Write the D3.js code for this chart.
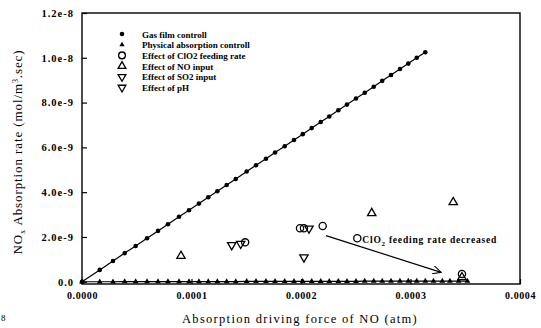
<!DOCTYPE html>
<html>
<head>
<meta charset="utf-8">
<script src="https://cdn.jsdelivr.net/npm/d3@7"></script>
<style>
  body { margin: 0; background: #fff; }
  svg text { font-family: "Liberation Serif", "DejaVu Serif", serif; fill: #000; }
</style>
</head>
<body>
<svg id="chart" width="541" height="328"></svg>
<script>
/* ───────────── DATA (x in atm, y in mol/m3.sec) ───────────── */
// shared x positions of the two model curves (unit 1e-4 atm)
const gasX = [0, 0.162, 0.283, 0.390, 0.490, 0.594, 0.694, 0.785, 0.886, 0.977,
              1.068, 1.153, 1.236, 1.321, 1.404, 1.504, 1.589, 1.680, 1.763, 1.851,
              1.936, 2.016, 2.098, 2.180, 2.258, 2.341, 2.420, 2.502, 2.582, 2.664,
              2.742, 2.822, 2.904, 2.980, 3.057, 3.135];
// gas film control (unit 1e-9)
const gasY = [0, 0.53, 0.93, 1.28, 1.60, 1.94, 2.27, 2.57, 2.90, 3.19,
              3.49, 3.77, 4.04, 4.32, 4.59, 4.92, 5.20, 5.49, 5.77, 6.05,
              6.33, 6.59, 6.86, 7.13, 7.38, 7.66, 7.91, 8.18, 8.44, 8.71,
              8.97, 9.23, 9.50, 9.74, 10.00, 10.25];
// physical absorption control (unit 1e-4 / 1e-9)
const physX = [0, 0.162, 0.283, 0.390, 0.490, 0.594, 0.694, 0.785, 0.886, 0.977,
               1.068, 1.153, 1.236, 1.321, 1.404, 1.504, 1.589, 1.680, 1.763, 1.851,
               1.936, 2.016, 2.098, 2.180, 2.258, 2.341, 2.420, 2.502, 2.582, 2.664,
               2.742, 2.822, 2.904, 2.980, 3.057, 3.135, 3.21, 3.29, 3.36, 3.44, 3.52];
const physY = [0, 0, 0, 0.01, 0.01, 0.01, 0.01, 0.01, 0.01, 0.01,
               0.01, 0.01, 0.01, 0.01, 0.01, 0.02, 0.02, 0.02, 0.02, 0.02,
               0.02, 0.02, 0.02, 0.02, 0.02, 0.02, 0.02, 0.02, 0.03, 0.03,
               0.03, 0.03, 0.03, 0.03, 0.03, 0.03, 0.03, 0.03, 0.03, 0.03, 0.03];
// experiments
const clo2X = [1.49, 1.991, 2.027, 2.198, 2.514, 3.47];
const clo2Y = [1.76, 2.39, 2.39, 2.49, 1.94, 0.35];
const noX   = [0.904, 2.646, 3.39, 3.47];
const noY   = [1.15, 3.06, 3.55, 0.20];
const so2X  = [1.367, 1.449];
const so2Y  = [1.64, 1.70];
const phX   = [2.073, 2.027];
const phY   = [2.38, 1.09];

const xTicks = [0, 1, 2, 3, 4];               // 1e-4
const xTickLabels = ["0.0000", "0.0001", "0.0002", "0.0003", "0.0004"];
const yTicks = [0, 2, 4, 6, 8, 10, 12];       // 1e-9
const yTickLabels = ["0.0", "2.0e-9", "4.0e-9", "6.0e-9", "8.0e-9", "1.0e-8", "1.2e-8"];

const legendLabels = ["Gas film controll", "Physical absorption controll",
                      "Effect of ClO2 feeding rate", "Effect of NO input",
                      "Effect of SO2 input", "Effect of pH"];

/* ───────────── SCALES ───────────── */
const svg = d3.select("#chart");
const x = d3.scaleLinear().domain([0, 4]).range([82, 520]);
const y = d3.scaleLinear().domain([-0.1, 12]).range([284, 13]);

const zip = (xs, ys) => xs.map((v, i) => [v, ys[i]]);

/* ───────────── FRAME + AXES ───────────── */
svg.append("rect")
   .attr("x", x(0)).attr("y", y(12))
   .attr("width", x(4) - x(0)).attr("height", y(-0.1) - y(12))
   .attr("fill", "none").attr("stroke", "#000").attr("stroke-width", 1.4);

const yAxis = svg.append("g")
   .attr("transform", `translate(${x(0)},0)`)
   .call(d3.axisLeft(y).tickValues(yTicks)
           .tickFormat((d, i) => yTickLabels[i])
           .tickSizeInner(-5).tickSizeOuter(0).tickPadding(8));
yAxis.select(".domain").remove();
yAxis.selectAll("text").style("font-size", "10.5px").style("font-weight", "bold")
     .style("letter-spacing", "1px");
yAxis.selectAll("line").attr("stroke-width", 1.2);

const xAxis = svg.append("g")
   .attr("transform", `translate(0,${y(-0.1)})`)
   .call(d3.axisBottom(x).tickValues(xTicks)
           .tickFormat((d, i) => xTickLabels[i])
           .tickSizeInner(-5).tickSizeOuter(0).tickPadding(8));
xAxis.select(".domain").remove();
xAxis.selectAll("text").style("font-size", "10px").style("font-weight", "bold")
     .style("letter-spacing", "0.6px");
xAxis.selectAll("line").attr("stroke-width", 1.2);

/* axis titles */
svg.append("text")
   .attr("x", 300).attr("y", 323)
   .attr("text-anchor", "middle")
   .style("font-size", "12.5px").style("letter-spacing", "1.3px")
   .text("Absorption driving force of NO (atm)");

const yt = svg.append("text")
   .attr("transform", "translate(22,152) rotate(-90)")
   .attr("text-anchor", "middle")
   .style("font-size", "13px").style("letter-spacing", "0.9px");
yt.append("tspan").text("NO");
yt.append("tspan").attr("dy", 3).style("font-size", "8px").text("x");
yt.append("tspan").attr("dy", -3).text(" Absorption rate (mol/m");
yt.append("tspan").attr("dy", -4).style("font-size", "8px").text("3");
yt.append("tspan").attr("dy", 4).text(".sec)");

// stray scan character bottom-left
svg.append("text").attr("x", 1).attr("y", 321).style("font-size", "9px").text("8");

/* ───────────── MODEL CURVES ───────────── */
const line = d3.line().x(d => x(d[0])).y(d => y(d[1]));
const gas = zip(gasX, gasY);
const phys = zip(physX, physY);

svg.append("path").datum(gas).attr("d", line)
   .attr("fill", "none").attr("stroke", "#000").attr("stroke-width", 1.2);
svg.append("path").datum(phys).attr("d", line)
   .attr("fill", "none").attr("stroke", "#000").attr("stroke-width", 1.2);

svg.append("g").selectAll("circle").data(gas).join("circle")
   .attr("cx", d => x(d[0])).attr("cy", d => y(d[1])).attr("r", 2.3).attr("fill", "#000");

const triUp = d3.symbol().type(d3.symbolTriangle);
svg.append("g").selectAll("path").data(phys).join("path")
   .attr("transform", d => `translate(${x(d[0])},${y(d[1])})`)
   .attr("d", triUp.size(14)()).attr("fill", "#000");

/* ───────────── EXPERIMENT POINTS ───────────── */
const openStyle = sel => sel.attr("fill", "none").attr("stroke", "#000").attr("stroke-width", 1.3);

svg.append("g").selectAll("circle").data(zip(clo2X, clo2Y)).join("circle")
   .attr("cx", d => x(d[0])).attr("cy", d => y(d[1])).attr("r", 3.6).call(openStyle);

svg.append("g").selectAll("path").data(zip(noX, noY)).join("path")
   .attr("transform", d => `translate(${x(d[0])},${y(d[1])})`)
   .attr("d", d3.symbol().type(d3.symbolTriangle).size(30)()).call(openStyle);

svg.append("g").selectAll("path").data(zip(so2X, so2Y).concat(zip(phX, phY))).join("path")
   .attr("transform", d => `translate(${x(d[0])},${y(d[1])}) rotate(180)`)
   .attr("d", d3.symbol().type(d3.symbolTriangle).size(30)()).call(openStyle);

/* ───────────── ANNOTATION ───────────── */
svg.append("defs").append("marker")
   .attr("id", "arrow").attr("viewBox", "0 0 10 10").attr("refX", 10).attr("refY", 5)
   .attr("markerWidth", 9).attr("markerHeight", 7).attr("orient", "auto")
   .append("path").attr("d", "M0,0 L10,5 L0,10").attr("fill", "none")
   .attr("stroke", "#000").attr("stroke-width", 1.2);

svg.append("line")
   .attr("x1", x(2.228)).attr("y1", y(2.06))
   .attr("x2", x(3.28)).attr("y2", y(0.42))
   .attr("stroke", "#000").attr("stroke-width", 1.2)
   .attr("marker-end", "url(#arrow)");

const ann = svg.append("text").attr("x", x(2.514) + 5).attr("y", y(1.94) + 5)
   .style("font-size", "9.5px").style("font-weight", "bold").style("letter-spacing", "0.8px");
ann.append("tspan").text("ClO");
ann.append("tspan").attr("dy", 3).style("font-size", "7px").text("2");
ann.append("tspan").attr("dy", -3).attr("dx", 3).text("feeding rate decreased");

/* ───────────── LEGEND ───────────── */
const lg = svg.append("g").attr("transform", "translate(122,34)");
const rowH = 10.7;
legendLabels.forEach((lab, i) => {
  const row = lg.append("g").attr("transform", `translate(0,${i * rowH})`);
  if (i === 0) row.append("circle").attr("r", 2.3).attr("fill", "#000");
  if (i === 1) row.append("path").attr("d", d3.symbol().type(d3.symbolTriangle).size(12)()).attr("fill", "#000");
  if (i === 2) row.append("circle").attr("r", 3.4).call(openStyle);
  if (i === 3) row.append("path").attr("d", d3.symbol().type(d3.symbolTriangle).size(26)()).call(openStyle);
  if (i >= 4) row.append("path").attr("transform", "rotate(180)")
                 .attr("d", d3.symbol().type(d3.symbolTriangle).size(26)()).call(openStyle);
  row.append("text").attr("x", 20).attr("y", 3.5)
     .style("font-size", "9px").style("font-weight", "bold").text(lab);
});
</script>
</body>
</html>
